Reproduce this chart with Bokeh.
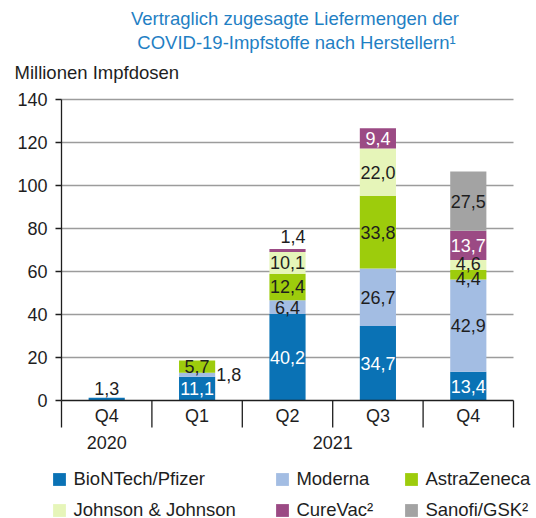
from bokeh.plotting import figure
from bokeh.models import Range1d, FixedTicker, Label, Legend, LegendItem, ColumnDataSource, LinearAxis
from bokeh.core.properties import value
from bokeh.embed import file_html
from bokeh.resources import INLINE

# ---------------- data ----------------
quarters = ["Q4", "Q1", "Q2", "Q3", "Q4"]
years = ["2020", "2021", "2021", "2021", "2021"]
series = ["BioNTech/Pfizer", "Moderna", "AstraZeneca", "Johnson & Johnson", "CureVac²", "Sanofi/GSK²"]
biontech = [1.3, 11.1, 40.2, 34.7, 13.4]
moderna = [0.0, 1.8, 6.4, 26.7, 42.9]
astrazeneca = [0.0, 5.7, 12.4, 33.8, 4.4]
johnson = [0.0, 0.0, 10.1, 22.0, 4.6]
curevac = [0.0, 0.0, 1.4, 9.4, 13.7]
sanofi = [0.0, 0.0, 0.0, 0.0, 27.5]
y_ticks = [0, 20, 40, 60, 80, 100, 120, 140]
title_lines = ["Vertraglich zugesagte Liefermengen der", "COVID-19-Impfstoffe nach Herstellern¹"]
y_label = "Millionen Impfdosen"

# ---------------- style ----------------
colors = ["#0a72b5", "#a3bde3", "#9dcc0c", "#e6f5b9", "#9b4a84", "#a3a3a3"]
FONT = "Liberation Sans"
FS = "18px"
FS_T = "18.5px"
DARK = "#1e1e1e"
TITLE_C = "#1f80c4"
bar_w = 0.4
W, H = 536, 518
X0, XPX = 61, 90.4       # pixel of x=0, pixels per category
Y0, YPX = 400, 2.15      # pixel of y=0, pixels per unit

stack = [biontech, moderna, astrazeneca, johnson, curevac, sanofi]
keys = ["s%d" % i for i in range(len(series))]
ncat = len(quarters)
xs = [i + 0.5 for i in range(ncat)]

p = figure(width=W, height=H, output_backend="svg", toolbar_location=None,
           x_range=Range1d(-X0 / XPX, (W - X0) / XPX),
           y_range=Range1d(-(H - Y0) / YPX, Y0 / YPX),
           x_axis_type=None, y_axis_type=None, title=None,
           min_border=0)
p.outline_line_color = None
p.background_fill_color = "white"
p.xgrid.visible = False
p.ygrid.visible = False

# grid lines (within the category span)
p.segment(x0=[0] * (len(y_ticks) - 1), x1=[ncat] * (len(y_ticks) - 1),
          y0=y_ticks[1:], y1=y_ticks[1:], line_color="#9c9c9c", line_width=1.3)

# y axis
ax = LinearAxis(fixed_location=0, ticker=FixedTicker(ticks=y_ticks),
                bounds=(y_ticks[0], y_ticks[-1]))
ax.major_tick_in = 0
ax.major_tick_out = 6
ax.minor_tick_line_color = None
ax.axis_line_color = DARK
ax.axis_line_width = 1.3
ax.major_tick_line_color = DARK
ax.major_tick_line_width = 1.3
ax.major_label_text_font = FONT
ax.major_label_text_font_size = FS
ax.major_label_text_color = DARK
ax.major_label_standoff = 8
p.add_layout(ax, "left")

# stacked bars
data = {"x": xs}
for k, vals in zip(keys, stack):
    data[k] = vals
src = ColumnDataSource(data)
rends = p.vbar_stack(keys, x="x", width=bar_w, color=colors, line_color=None, source=src)

# baseline and category separators
p.segment(x0=[0], x1=[ncat], y0=[0], y1=[0], line_color=DARK, line_width=1.3)
sep_x = list(range(ncat + 1))
sep_len = 27 / YPX
p.segment(x0=sep_x, y0=[0] * len(sep_x), x1=sep_x, y1=[-sep_len] * len(sep_x),
          line_color=DARK, line_width=1.3)

# category labels
p.text(x=xs, y=[-15.7 / YPX] * ncat, text=quarters, text_align="center",
       text_baseline="middle", text_font=value(FONT), text_font_size=FS, text_color=DARK)
uy = []
for yv in years:
    if yv not in uy:
        uy.append(yv)
yx = [sum(x for x, yy in zip(xs, years) if yy == u) / years.count(u) for u in uy]
p.text(x=yx, y=[-42 / YPX] * len(uy), text=uy, text_align="center",
       text_baseline="middle", text_font=value(FONT), text_font_size=FS, text_color=DARK)

# value labels
above = {(0, 0): ("center", -9), (4, 2): ("right", -12)}
right_of = {(1, 1)}
nudge = {(2, 4): 4, (3, 4): -2}
white = {0, 4}
cols = ["x", "y", "t", "c", "a", "xo", "yo"]
L = {k: [] for k in cols}
base = [0.0] * ncat
for s, vals in enumerate(stack):
    for q, v in enumerate(vals):
        if v <= 0:
            continue
        xc = xs[q]
        txt = ("%.1f" % v).replace(".", ",")
        if (s, q) in above:
            al, off = above[(s, q)]
            x = xc + (bar_w / 2 if al == "right" else 0)
            row = (x, base[q] + v, txt, DARK, al, 0, off)
        elif (s, q) in right_of:
            row = (xc + bar_w / 2, base[q] + v / 2, txt, DARK, "left", 1, 0)
        else:
            row = (xc, base[q] + v / 2, txt, "white" if s in white else DARK,
                   "center", 0, nudge.get((s, q), 0))
        for k, val in zip(cols, row):
            L[k].append(val)
        base[q] += v
lsrc = ColumnDataSource(L)
p.text(x="x", y="y", text="t", text_color="c", text_align="a", text_baseline="middle",
       x_offset="xo", y_offset="yo", text_font=value(FONT), text_font_size=FS, source=lsrc)

# titles (screen units measured from the bottom-left of the frame)
p.add_layout(Label(x=294.5, y=H - 17.5, x_units="screen", y_units="screen",
                   text=title_lines[0], text_align="center", text_baseline="middle",
                   text_font=FONT, text_font_size=FS_T, text_color=TITLE_C))
p.add_layout(Label(x=296, y=H - 42.4, x_units="screen", y_units="screen",
                   text=title_lines[1], text_align="center", text_baseline="middle",
                   text_font=FONT, text_font_size=FS_T, text_color=TITLE_C))
p.add_layout(Label(x=14, y=H - 72, x_units="screen", y_units="screen",
                   text=y_label, text_align="left", text_baseline="middle",
                   text_font=FONT, text_font_size=FS_T, text_color=DARK))

# legend: three columns of two entries
col_x = [51.4, 274.4, 403.4]
ncol = 3
for c in range(ncol):
    idx = [c, c + ncol]
    items = [LegendItem(label=series[i], renderers=[rends[i]]) for i in idx]
    lg = Legend(items=items, location=(col_x[c], -2.5), orientation="vertical",
                glyph_width=16, glyph_height=16, label_standoff=6, spacing=9,
                label_text_font=FONT, label_text_font_size=FS_T, label_text_color=DARK,
                padding=0, margin=0, border_line_color=None, background_fill_alpha=0)
    p.add_layout(lg, "center")

open("out.html", "w").write(file_html(p, INLINE))
